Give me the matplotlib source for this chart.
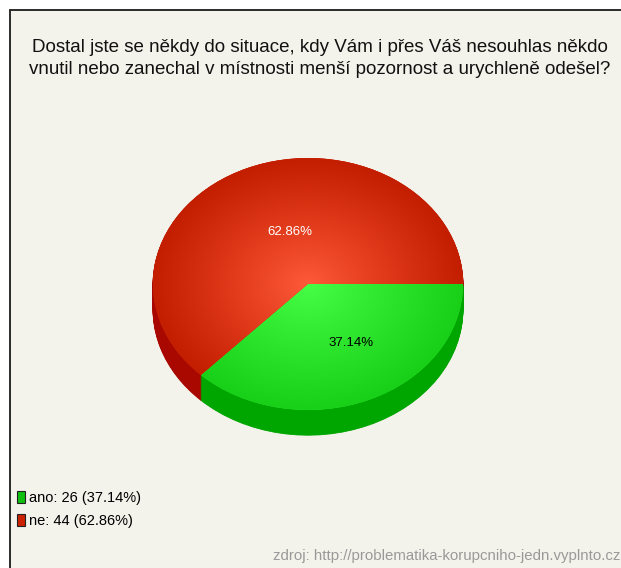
import numpy as np
import matplotlib
matplotlib.use("Agg")
import matplotlib.pyplot as plt
from matplotlib.patches import Rectangle, Patch

# data
answers = ["ano", "ne"]
counts = [26, 44]
top_colors = ["#2fe62f", "#d52a0a"]
center_colors = ["#48ff48", "#ff5a3a"]
edge_colors = ["#18d018", "#c41e00"]
side_colors = ["#00a600", "#a80800"]
label_colors = ["black", "white"]
title_lines = ["Dostal jste se někdy do situace, kdy Vám i přes Váš nesouhlas někdo",
               "vnutil nebo zanechal v místnosti menší pozornost a urychleně odešel?"]
source = "zdroj: http://problematika-korupcniho-jedn.vyplnto.cz"

plt.rcParams["font.family"] = ["Liberation Sans", "DejaVu Sans"]

W, H = 621, 568
fig = plt.figure(figsize=(W / 100, H / 100), dpi=100, facecolor="white")

# panel background with a dark frame on the left and top
fig.patches.append(Rectangle((10 / W, -0.1), 1.2, (H - 10) / H + 0.1,
                             transform=fig.transFigure, facecolor="#f4f3eb",
                             edgecolor="#1a1a1a", linewidth=1.3, zorder=-5))

for i, line in enumerate(title_lines):
    fig.text(320 / W, 1 - (47 + 23 * i) / H, line, ha="center", va="center",
             fontsize=13.5, color="#111111")

# pie axes: 1 data unit = 155 px horizontally, 126 px vertically
rx, ry, depth = 155, 126, 0.2
cx, cy = 308, 284
y_top, y_bot = 1.05, -1.3
ax = fig.add_axes([(cx - rx) / W, (H - (cy - y_bot * ry)) / H,
                   2 * rx / W, (y_top - y_bot) * ry / H])
ax.set_zorder(2)

# side of the 3D pie: stacked dark layers
for d in np.linspace(depth, 0.005, 30):
    ws, _ = ax.pie(counts, colors=side_colors, startangle=0, counterclock=False,
                   center=(0, -d), wedgeprops=dict(linewidth=0.6))
    for w, c in zip(ws, side_colors):
        w.set_edgecolor(c)

wedges, _, autotexts = ax.pie(counts, colors=top_colors, startangle=0,
                              counterclock=False, autopct="%.2f%%",
                              pctdistance=0.5, wedgeprops=dict(linewidth=0),
                              textprops=dict(fontsize=9.5))

# radial shading of the top surface
yy, xx = np.mgrid[-1:1:300j, -1:1:300j]
rr = np.clip(np.hypot(xx, yy), 0, 1)[..., None]
for w, c0, c1 in zip(wedges, center_colors, edge_colors):
    a = np.array(matplotlib.colors.to_rgb(c0))
    b = np.array(matplotlib.colors.to_rgb(c1))
    img = a + (b - a) * rr ** 0.9
    im = ax.imshow(img, extent=(-1, 1, -1, 1), origin="lower",
                   aspect="auto", zorder=w.get_zorder() + 0.1)
    im.set_clip_path(w)

for t, c in zip(autotexts, label_colors):
    t.set_color(c)
    t.set_zorder(10)
autotexts[0].set_position((0.28, -0.47))
autotexts[1].set_position((-0.12, 0.41))

ax.set_aspect("auto")
ax.set_xlim(-1, 1)
ax.set_ylim(y_bot, y_top)
ax.axis("off")

total = sum(counts)
handles = [Patch(facecolor=c, edgecolor="#222222", linewidth=0.8)
           for c in ["#10c010", "#cc2200"]]
labels = [f"{a}: {n} ({100 * n / total:.2f}%)" for a, n in zip(answers, counts)]
fig.legend(handles, labels, loc="upper left",
           bbox_to_anchor=(17 / W, 1 - 491 / H), frameon=False,
           fontsize=10.5, handlelength=0.55, handleheight=0.8,
           handletextpad=0.25, labelspacing=0.62, borderpad=0,
           borderaxespad=0)

fig.text(620 / W, 1 - 556 / H, source, ha="right", va="center",
         fontsize=10.8, color="#999999")

fig.savefig("out.png", dpi=100, facecolor=fig.get_facecolor())
